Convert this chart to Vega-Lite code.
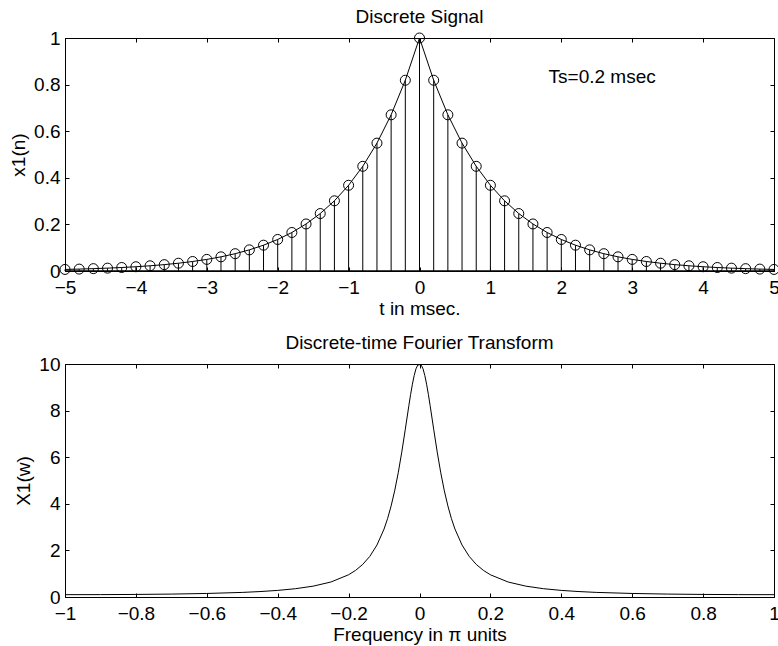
{
  "$schema": "https://vega.github.io/schema/vega-lite/v6.json",
  "padding": {"left": 9, "top": 7, "right": 0, "bottom": 0},
  "spacing": 14,
  "background": "white",
  "datasets": {
    "signal": [
      {"t": -5.0, "x": 0.0067}, {"t": -4.8, "x": 0.0082}, {"t": -4.6, "x": 0.0101}, {"t": -4.4, "x": 0.0123},
      {"t": -4.2, "x": 0.0150}, {"t": -4.0, "x": 0.0183}, {"t": -3.8, "x": 0.0224}, {"t": -3.6, "x": 0.0273},
      {"t": -3.4, "x": 0.0334}, {"t": -3.2, "x": 0.0408}, {"t": -3.0, "x": 0.0498}, {"t": -2.8, "x": 0.0608},
      {"t": -2.6, "x": 0.0743}, {"t": -2.4, "x": 0.0907}, {"t": -2.2, "x": 0.1108}, {"t": -2.0, "x": 0.1353},
      {"t": -1.8, "x": 0.1653}, {"t": -1.6, "x": 0.2019}, {"t": -1.4, "x": 0.2466}, {"t": -1.2, "x": 0.3012},
      {"t": -1.0, "x": 0.3679}, {"t": -0.8, "x": 0.4493}, {"t": -0.6, "x": 0.5488}, {"t": -0.4, "x": 0.6703},
      {"t": -0.2, "x": 0.8187}, {"t": 0.0, "x": 1.0},
      {"t": 0.2, "x": 0.8187}, {"t": 0.4, "x": 0.6703}, {"t": 0.6, "x": 0.5488}, {"t": 0.8, "x": 0.4493},
      {"t": 1.0, "x": 0.3679}, {"t": 1.2, "x": 0.3012}, {"t": 1.4, "x": 0.2466}, {"t": 1.6, "x": 0.2019},
      {"t": 1.8, "x": 0.1653}, {"t": 2.0, "x": 0.1353}, {"t": 2.2, "x": 0.1108}, {"t": 2.4, "x": 0.0907},
      {"t": 2.6, "x": 0.0743}, {"t": 2.8, "x": 0.0608}, {"t": 3.0, "x": 0.0498}, {"t": 3.2, "x": 0.0408},
      {"t": 3.4, "x": 0.0334}, {"t": 3.6, "x": 0.0273}, {"t": 3.8, "x": 0.0224}, {"t": 4.0, "x": 0.0183},
      {"t": 4.2, "x": 0.0150}, {"t": 4.4, "x": 0.0123}, {"t": 4.6, "x": 0.0101}, {"t": 4.8, "x": 0.0082},
      {"t": 5.0, "x": 0.0067}
    ],
    "dtft": [
      {"f": -1.0, "X": 0.100}, {"f": -0.9, "X": 0.102}, {"f": -0.8, "X": 0.110}, {"f": -0.7, "X": 0.125},
      {"f": -0.6, "X": 0.152}, {"f": -0.5, "X": 0.197}, {"f": -0.45, "X": 0.233}, {"f": -0.4, "X": 0.283},
      {"f": -0.35, "X": 0.356}, {"f": -0.3, "X": 0.466}, {"f": -0.25, "X": 0.643}, {"f": -0.2, "X": 0.954},
      {"f": -0.18, "X": 1.146}, {"f": -0.16, "X": 1.400}, {"f": -0.14, "X": 1.747}, {"f": -0.12, "X": 2.230},
      {"f": -0.1, "X": 2.917}, {"f": -0.09, "X": 3.368}, {"f": -0.08, "X": 3.911}, {"f": -0.07, "X": 4.560},
      {"f": -0.06, "X": 5.329}, {"f": -0.05, "X": 6.218}, {"f": -0.04, "X": 7.203}, {"f": -0.03, "X": 8.216},
      {"f": -0.025, "X": 8.697}, {"f": -0.02, "X": 9.135}, {"f": -0.015, "X": 9.507}, {"f": -0.01, "X": 9.792},
      {"f": -0.005, "X": 9.95}, {"f": 0.0, "X": 9.97},
      {"f": 0.005, "X": 9.95}, {"f": 0.01, "X": 9.792}, {"f": 0.015, "X": 9.507}, {"f": 0.02, "X": 9.135},
      {"f": 0.025, "X": 8.697}, {"f": 0.03, "X": 8.216}, {"f": 0.04, "X": 7.203}, {"f": 0.05, "X": 6.218},
      {"f": 0.06, "X": 5.329}, {"f": 0.07, "X": 4.560}, {"f": 0.08, "X": 3.911}, {"f": 0.09, "X": 3.368},
      {"f": 0.1, "X": 2.917}, {"f": 0.12, "X": 2.230}, {"f": 0.14, "X": 1.747}, {"f": 0.16, "X": 1.400},
      {"f": 0.18, "X": 1.146}, {"f": 0.2, "X": 0.954}, {"f": 0.25, "X": 0.643}, {"f": 0.3, "X": 0.466},
      {"f": 0.35, "X": 0.356}, {"f": 0.4, "X": 0.283}, {"f": 0.45, "X": 0.233}, {"f": 0.5, "X": 0.197},
      {"f": 0.6, "X": 0.152}, {"f": 0.7, "X": 0.125}, {"f": 0.8, "X": 0.110}, {"f": 0.9, "X": 0.102},
      {"f": 1.0, "X": 0.100}
    ]
  },
  "vconcat": [
    {
      "width": 709,
      "height": 233,
      "title": "Discrete Signal",
      "data": {"name": "signal"},
      "resolve": {"axis": {"x": "independent", "y": "independent"}},
      "layer": [
        {
          "mark": {"type": "rule", "color": "black", "strokeWidth": 1},
          "encoding": {
            "x": {"field": "t", "type": "quantitative", "scale": {"domain": [-5, 5], "nice": false},
                  "axis": {"title": "t in msec.", "values": [-5, -4, -3, -2, -1, 0, 1, 2, 3, 4, 5], "format": "d"}},
            "y": {"field": "x", "type": "quantitative", "scale": {"domain": [0, 1], "nice": false},
                  "axis": {"title": "x1(n)", "values": [0, 0.2, 0.4, 0.6, 0.8, 1], "format": "~g"}},
            "y2": {"datum": 0}
          }
        },
        {
          "mark": {"type": "line", "color": "black", "strokeWidth": 1},
          "encoding": {
            "x": {"field": "t", "type": "quantitative", "axis": null},
            "y": {"field": "x", "type": "quantitative", "axis": null}
          }
        },
        {
          "mark": {"type": "point", "shape": "circle", "filled": false, "color": "black", "strokeWidth": 1, "size": 100, "opacity": 1},
          "encoding": {
            "x": {"field": "t", "type": "quantitative", "axis": null},
            "y": {"field": "x", "type": "quantitative", "axis": null}
          }
        },
        {
          "data": {"values": [{}]},
          "mark": {"type": "rule", "color": "black", "strokeWidth": 1.5},
          "encoding": {
            "y": {"datum": 0, "type": "quantitative", "axis": null}
          }
        },
        {
          "data": {"values": [{}]},
          "mark": {"type": "text", "align": "left", "baseline": "alphabetic", "fontSize": 19, "font": "Liberation Sans", "color": "black"},
          "encoding": {
            "x": {"datum": 1.82, "type": "quantitative", "axis": null},
            "y": {"datum": 0.806, "type": "quantitative", "axis": null},
            "text": {"value": "Ts=0.2 msec"}
          }
        },
        {
          "mark": {"type": "rule", "opacity": 0},
          "encoding": {
            "x": {"field": "t", "type": "quantitative",
                  "axis": {"orient": "top", "labels": false, "title": null, "domain": false, "values": [-5, -4, -3, -2, -1, 0, 1, 2, 3, 4, 5]}},
            "y": {"field": "x", "type": "quantitative",
                  "axis": {"orient": "right", "labels": false, "title": null, "domain": false, "values": [0, 0.2, 0.4, 0.6, 0.8, 1]}}
          }
        }
      ]
    },
    {
      "width": 709,
      "height": 233,
      "title": "Discrete-time Fourier Transform",
      "data": {"name": "dtft"},
      "resolve": {"axis": {"x": "independent", "y": "independent"}},
      "layer": [
        {
          "mark": {"type": "line", "color": "black", "strokeWidth": 1},
          "encoding": {
            "x": {"field": "f", "type": "quantitative", "scale": {"domain": [-1, 1], "nice": false},
                  "axis": {"title": "Frequency in π units", "values": [-1, -0.8, -0.6, -0.4, -0.2, 0, 0.2, 0.4, 0.6, 0.8, 1], "format": "~g"}},
            "y": {"field": "X", "type": "quantitative", "scale": {"domain": [0, 10], "nice": false},
                  "axis": {"title": "X1(w)", "values": [0, 2, 4, 6, 8, 10], "format": "d"}}
          }
        },
        {
          "mark": {"type": "rule", "opacity": 0},
          "encoding": {
            "x": {"field": "f", "type": "quantitative",
                  "axis": {"orient": "top", "labels": false, "title": null, "domain": false, "values": [-1, -0.8, -0.6, -0.4, -0.2, 0, 0.2, 0.4, 0.6, 0.8, 1]}},
            "y": {"field": "X", "type": "quantitative",
                  "axis": {"orient": "right", "labels": false, "title": null, "domain": false, "values": [0, 2, 4, 6, 8, 10]}}
          }
        }
      ]
    }
  ],
  "config": {
    "font": "Liberation Sans",
    "view": {"stroke": "black", "strokeWidth": 1},
    "axis": {
      "grid": false,
      "domainColor": "black",
      "domainWidth": 1,
      "tickColor": "black",
      "tickWidth": 1,
      "tickSize": -4,
      "labelFont": "Liberation Sans",
      "labelFontSize": 19,
      "labelColor": "black",
      "labelFlush": false,
      "labelOverlap": false,
      "labelBound": false,
      "titleFont": "Liberation Sans",
      "titleFontSize": 19,
      "titleFontWeight": "normal",
      "titleColor": "black"
    },
    "axisX": {"labelPadding": 11, "titlePadding": 2},
    "axisY": {"labelPadding": 9, "titlePadding": 5},
    "title": {"font": "Liberation Sans", "fontSize": 19, "fontWeight": "normal", "color": "black", "offset": 2, "anchor": "middle"}
  }
}
